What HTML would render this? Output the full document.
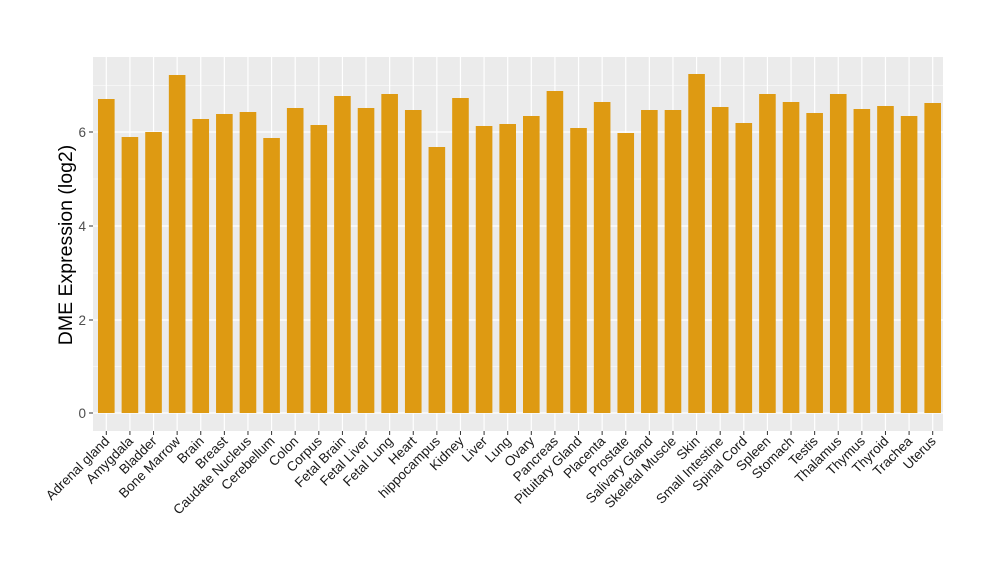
<!DOCTYPE html>
<html><head><meta charset="utf-8"><style>body{margin:0;background:#fff}svg{display:block}</style></head><body>
<svg width="1000" height="580" xmlns="http://www.w3.org/2000/svg" font-family="Liberation Sans, sans-serif">
<rect x="93" y="57" width="850" height="374" fill="#EBEBEB"/>
<g id="grid"></g>
<g id="bars"></g>
<g id="labels"></g>
<g font-size="13.5" fill="#4D4D4D" text-anchor="end">
<text x="86" y="418">0</text><text x="86" y="325">2</text><text x="86" y="231">4</text><text x="86" y="137">6</text>
</g>
<g stroke="#333" stroke-width="1"><line x1="89" x2="93" y1="413" y2="413"/><line x1="89" x2="93" y1="320" y2="320"/><line x1="89" x2="93" y1="226" y2="226"/><line x1="89" x2="93" y1="132" y2="132"/></g>
<text transform="translate(72,245) rotate(-90)" text-anchor="middle" font-size="19.5" fill="#000">DME Expression (log2)</text>
<script>
var names=["Adrenal gland","Amygdala","Bladder","Bone Marrow","Brain","Breast","Caudate Nucleus","Cerebellum","Colon","Corpus","Fetal Brain","Fetal Liver","Fetal Lung","Heart","hippocampus","Kidney","Liver","Lung","Ovary","Pancreas","Pituitary Gland","Placenta","Prostate","Salivary Gland","Skeletal Muscle","Skin","Small Intestine","Spinal Cord","Spleen","Stomach","Testis","Thalamus","Thymus","Thyroid","Trachea","Uterus"];
var tops=[99,137,132,75,119,114,112,138,108,125,96,108,94,110,147,98,126,124,116,91,128,102,133,110,110,74,107,123,94,102,113,94,109,106,116,103];
var ns="http://www.w3.org/2000/svg",g=document.getElementById("grid"),b=document.getElementById("bars"),l=document.getElementById("labels");
function el(p,t,a){var e=document.createElementNS(ns,t);for(var k in a)e.setAttribute(k,a[k]);p.appendChild(e);return e;}
[366.5,273,179,85.5].forEach(function(y){el(g,"line",{x1:93,x2:943,y1:y,y2:y,stroke:"#fff","stroke-width":0.6});});
[413,320,226,132].forEach(function(y){el(g,"line",{x1:93,x2:943,y1:y,y2:y,stroke:"#fff","stroke-width":1.2});});
var w=850/36;
names.forEach(function(n,i){var c=94.5+w*(i+0.5);
el(g,"line",{x1:c,x2:c,y1:57,y2:431,stroke:"#fff","stroke-width":1.2});
el(b,"rect",{x:c-8.3,y:tops[i],width:16.6,height:413-tops[i],fill:"#DE9A12"});
el(l,"line",{x1:c,x2:c,y1:431,y2:435,stroke:"#333"});
var t=el(l,"text",{transform:"translate("+(c+4)+",442) rotate(-45)","text-anchor":"end","font-size":"13.5",fill:"#1a1a1a"});t.textContent=n;});
</script>
</svg>
</body></html>
